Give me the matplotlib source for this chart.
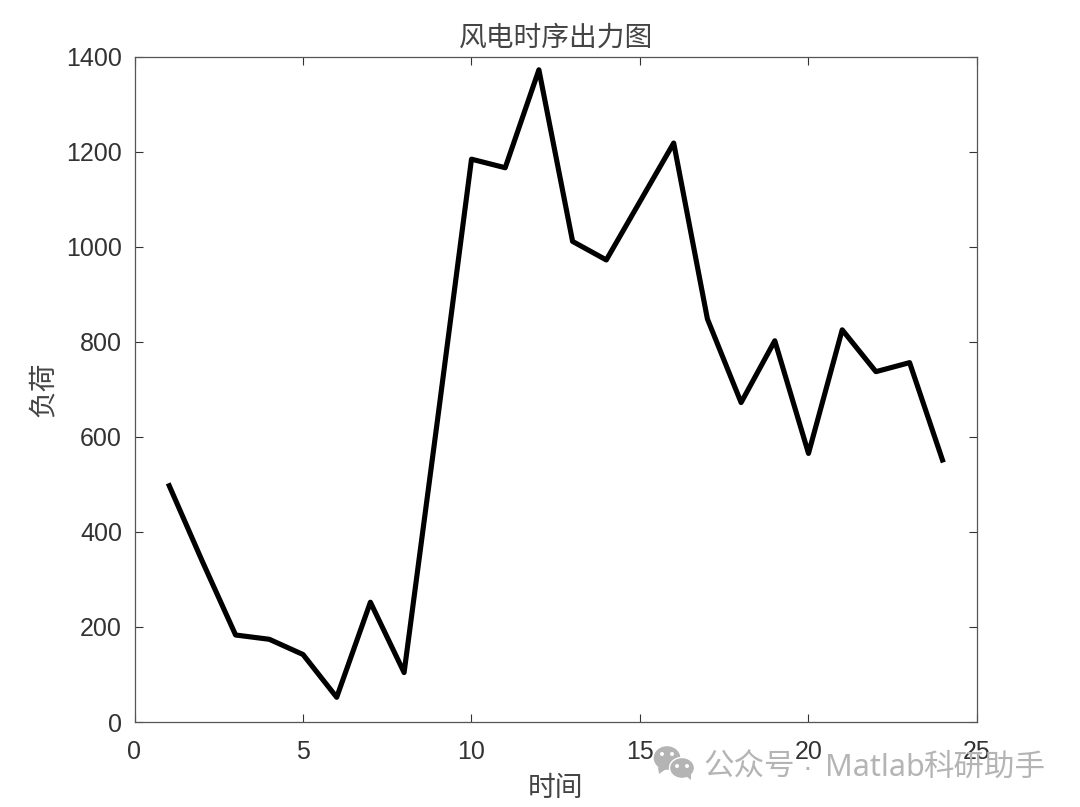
import matplotlib
matplotlib.use('Agg')
import matplotlib.pyplot as plt
from matplotlib.patches import Ellipse, Polygon

plt.rcParams['font.family'] = ['Liberation Sans', 'Noto Sans CJK SC', 'DejaVu Sans']

# 风电出力
hours = list(range(1, 25))
wind_power = [502, 340, 183, 174, 142, 52, 252, 104, 640, 1184, 1166, 1372, 1011, 972,
              1095, 1218, 848, 672, 802, 565, 825, 737, 756, 546]
xticks = [0, 5, 10, 15, 20, 25]
yticks = [0, 200, 400, 600, 800, 1000, 1200, 1400]

W, H = 1080, 807
fig = plt.figure(figsize=(10.8, 8.07), dpi=100)
ax = fig.add_axes([134.5/W, 1-722/H, (977-134.5)/W, (722-56.5)/H])
ax.plot(hours, wind_power, color='black', lw=3.7, solid_joinstyle='round', solid_capstyle='butt')
ax.set_xlim(0, 25)
ax.set_ylim(0, 1400)
ax.set_xticks(xticks)
ax.set_yticks(yticks)
ax.tick_params(axis='both', direction='in', length=6, width=0.8, labelsize=18, colors='#333333',
               top=True, right=True)
ax.tick_params(axis='x', pad=13)
ax.tick_params(axis='y', pad=9)
for s in ax.spines.values():
    s.set_linewidth(0.9)
    s.set_color('#555555')

fig.text(556/W, 1-39/H, '风电时序出力图', fontsize=20, color='#444444', ha='center', va='center')
fig.text(556/W, 1-789/H, '时间', fontsize=20, color='#444444', ha='center', va='center')
fig.text(44/W, 1-389/H, '负荷', fontsize=20, color='#444444', ha='center', va='center', rotation=90)

# 水印
grey = '#b4b4b4'
fig.text(703/W, 1-768/H, '公众号', fontsize=22, color=grey, ha='left', va='center')
fig.text(807/W, 1-768/H, '·', fontsize=21, color=grey, ha='center', va='center')
fig.text(825/W, 1-768/H, 'Matlab', fontsize=22, color=grey, ha='left', va='center', family='Noto Sans')
fig.text(1045/W, 1-768/H, '科研助手', fontsize=22, color=grey, ha='right', va='center')
for cx, cy, w, h in [(667, 758, 28, 25), (682, 768, 25, 21)]:
    fig.add_artist(Ellipse((cx/W, 1-cy/H), w/W, h/H, fc=grey, ec='white', lw=1,
                           transform=fig.transFigure))
for pts in [[(658, 767), (659, 774), (666, 769)], [(686, 776), (691, 780), (691, 774)]]:
    fig.add_artist(Polygon([(x/W, 1-y/H) for x, y in pts], fc=grey, ec='none', transform=fig.transFigure))
for cx, cy in [(662, 754), (672, 754), (677, 766), (687, 766)]:
    fig.add_artist(Ellipse((cx/W, 1-cy/H), 4/W, 4/H, fc='white', ec='none', transform=fig.transFigure))

plt.savefig('out.png', dpi=100)
